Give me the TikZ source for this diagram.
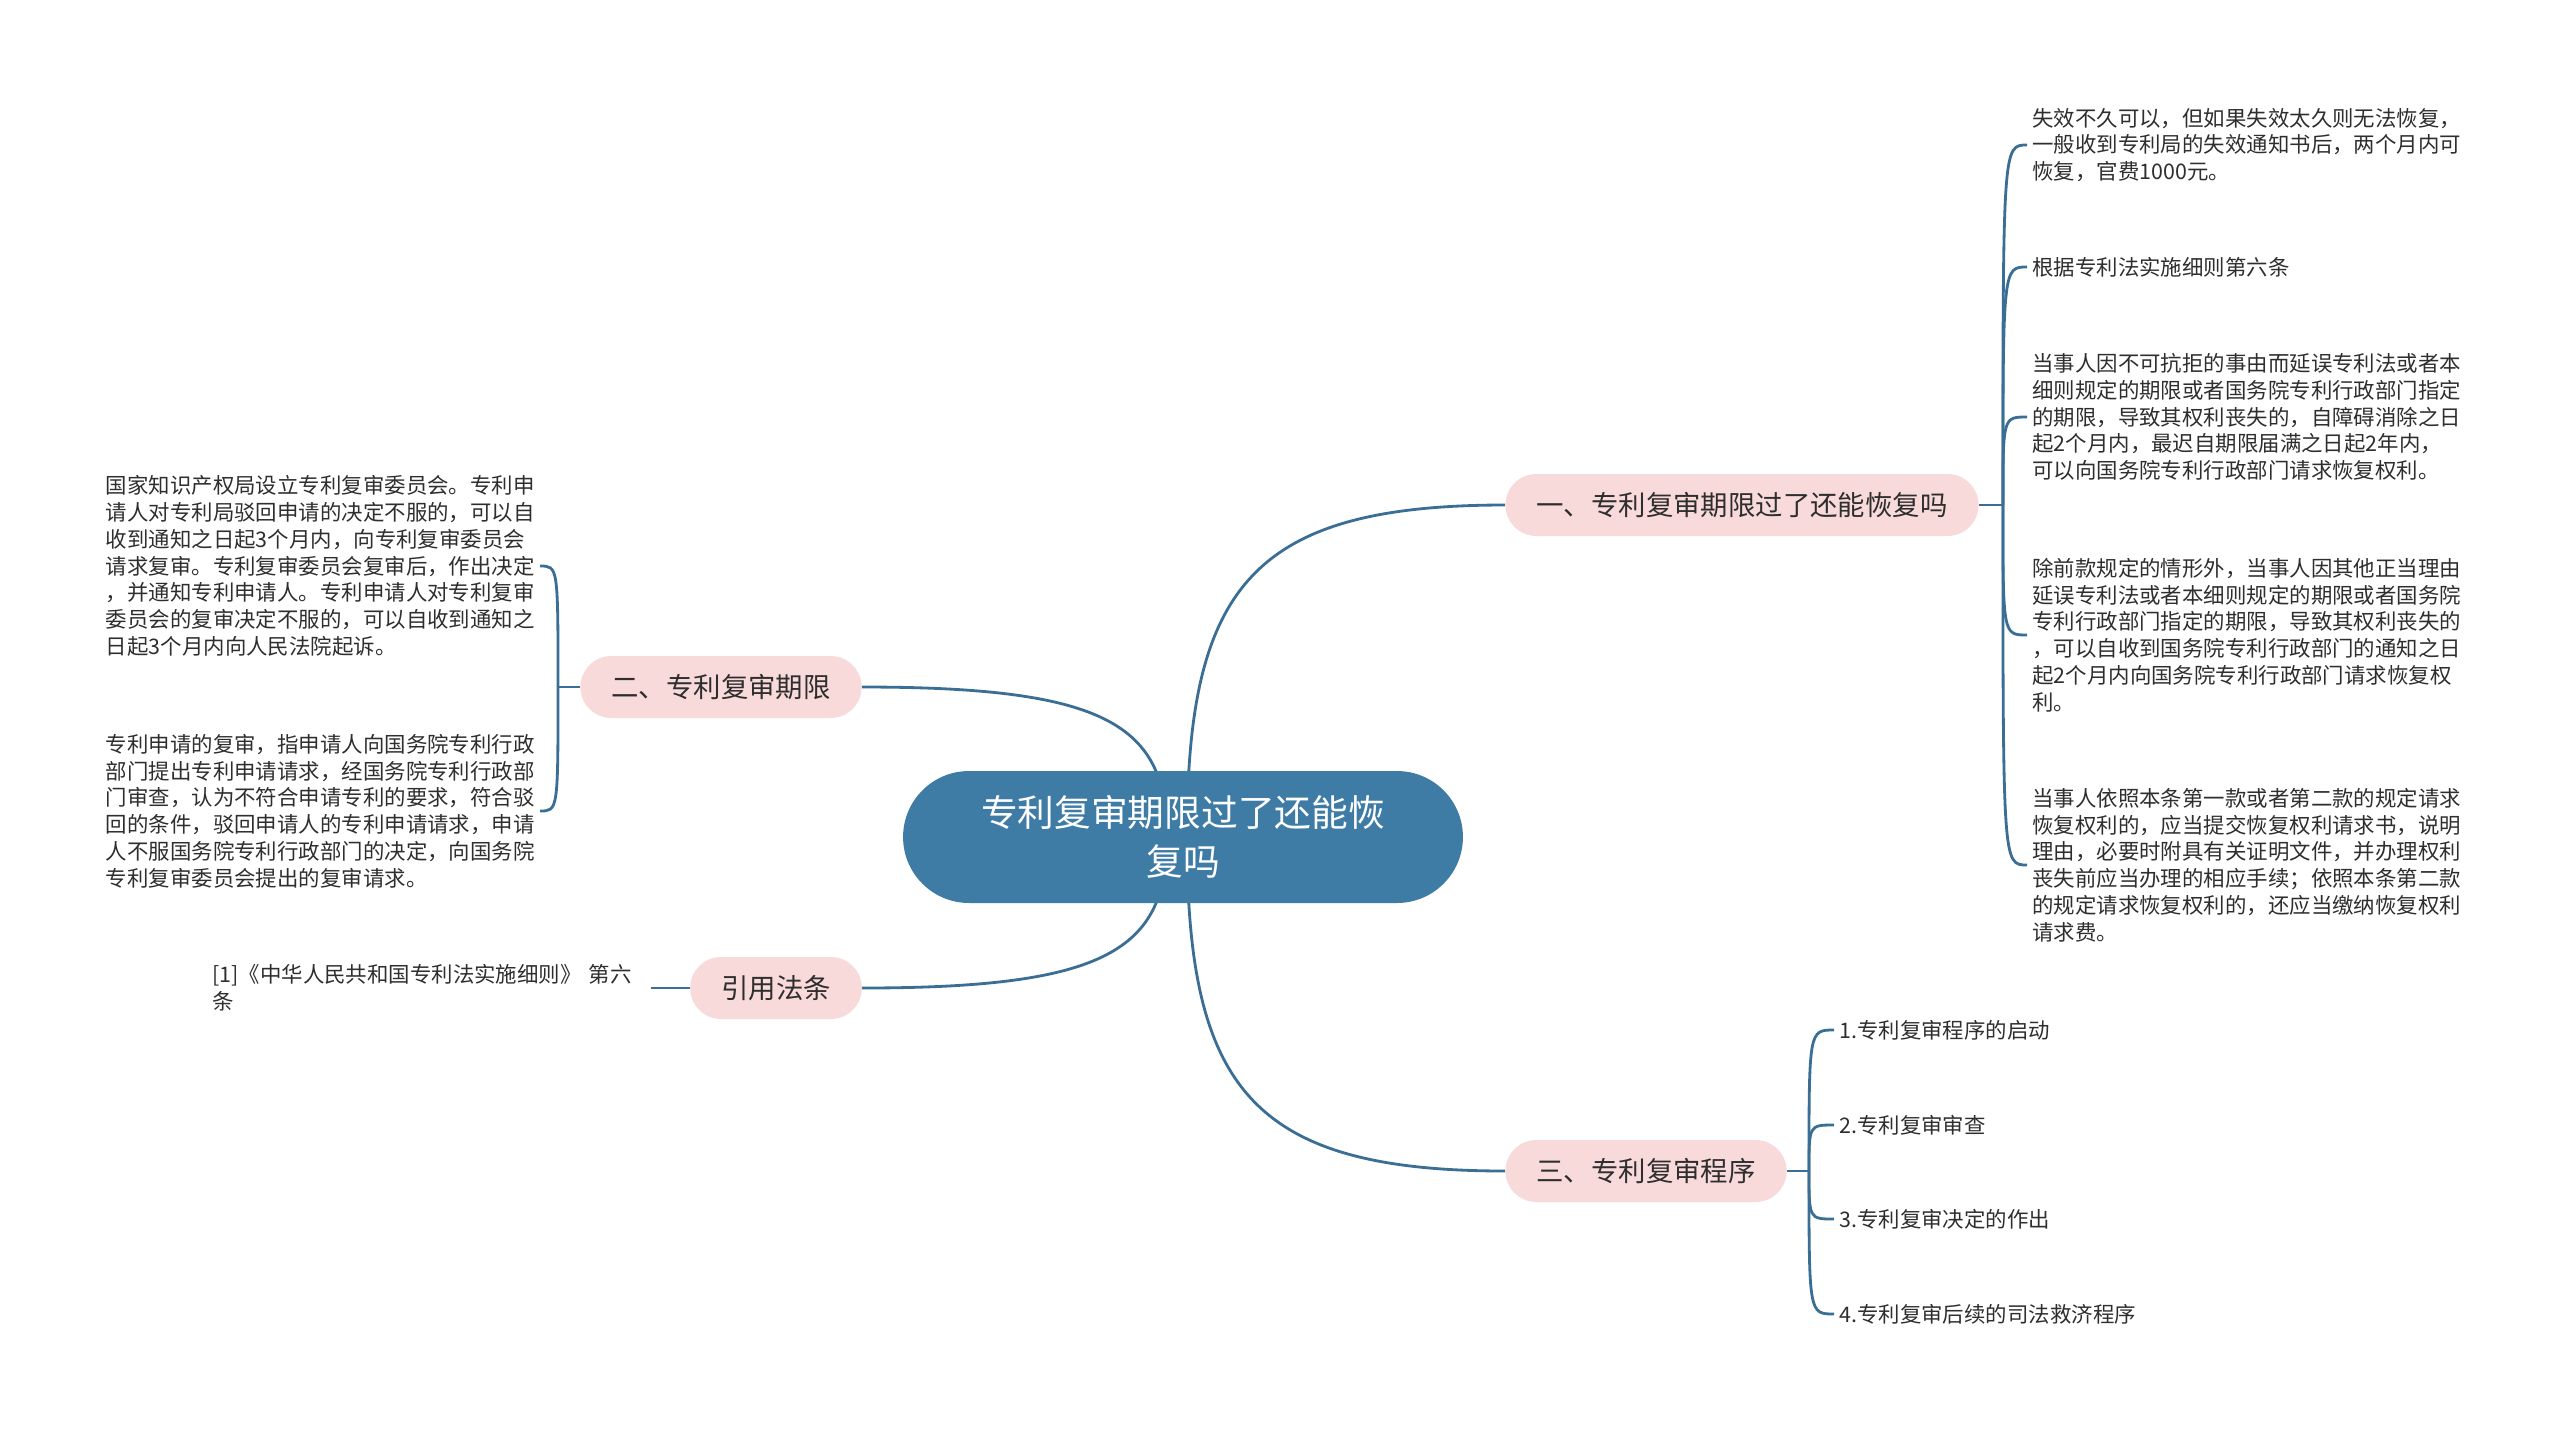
\documentclass[tikz,border=0pt]{standalone}
\usepackage{fontspec}
\setmainfont{Noto Sans CJK SC}
\usepackage{tikz}
\usetikzlibrary{positioning,calc,backgrounds}
\definecolor{rootblue}{HTML}{3E7CA6}
\definecolor{linkblue}{HTML}{3A6E94}
\definecolor{topicpink}{HTML}{F9DADA}
\definecolor{textgray}{HTML}{2E2E2E}

\begin{document}
\begin{tikzpicture}[
  x=0.02cm,y=-0.02cm,
  root/.style={rectangle,rounded corners=1.32cm,fill=rootblue,text=white,
               minimum width=11.2cm,minimum height=2.64cm,align=center,
               font=\fontsize{20.9pt}{27.9pt}\selectfont},
  topic/.style={rectangle,rounded corners=0.62cm,fill=topicpink,text=textgray,
                inner xsep=0.62cm,minimum height=1.24cm,
                font=\fontsize{15.6pt}{18pt}\selectfont},
  leaf/.style={inner xsep=0.1cm,inner ysep=0pt,align=left,text=textgray,
               font=\fontsize{12.2pt}{15.25pt}\selectfont},
  link/.style={draw=linkblue,line width=1.6pt}
]
  \useasboundingbox (0,0) rectangle (2560,1428);

  \node[root] (root) at (1183,837) {专利复审期限过了还能恢\\复吗};
  \node[topic] (t1) at (1742,505) {一、专利复审期限过了还能恢复吗};
  \node[topic] (t2) at (721,687) {二、专利复审期限};
  \node[topic] (t3) at (776,988) {引用法条};
  \node[topic] (t4) at (1646,1171) {三、专利复审程序};

  % right upper group
  \node[leaf,anchor=west] (a1) at (2027,145) {失效不久可以，但如果失效太久则无法恢复，\\一般收到专利局的失效通知书后，两个月内可\\恢复，官费1000元。};
  \node[leaf,anchor=west] (a2) at (2027,267) {根据专利法实施细则第六条};
  \node[leaf,anchor=west] (a3) at (2027,417) {当事人因不可抗拒的事由而延误专利法或者本\\细则规定的期限或者国务院专利行政部门指定\\的期限，导致其权利丧失的，自障碍消除之日\\起2个月内，最迟自期限届满之日起2年内，\\可以向国务院专利行政部门请求恢复权利。};
  \node[leaf,anchor=west] (a4) at (2027,635) {除前款规定的情形外，当事人因其他正当理由\\延误专利法或者本细则规定的期限或者国务院\\专利行政部门指定的期限，导致其权利丧失的\\，可以自收到国务院专利行政部门的通知之日\\起2个月内向国务院专利行政部门请求恢复权\\利。};
  \node[leaf,anchor=west] (a5) at (2027,865) {当事人依照本条第一款或者第二款的规定请求\\恢复权利的，应当提交恢复权利请求书，说明\\理由，必要时附具有关证明文件，并办理权利\\丧失前应当办理的相应手续；依照本条第二款\\的规定请求恢复权利的，还应当缴纳恢复权利\\请求费。};

  % left group
  \node[leaf,anchor=east] (b1) at (540,566) {国家知识产权局设立专利复审委员会。专利申\\请人对专利局驳回申请的决定不服的，可以自\\收到通知之日起3个月内，向专利复审委员会\\请求复审。专利复审委员会复审后，作出决定\\，并通知专利申请人。专利申请人对专利复审\\委员会的复审决定不服的，可以自收到通知之\\日起3个月内向人民法院起诉。};
  \node[leaf,anchor=east] (b2) at (540,811) {专利申请的复审，指申请人向国务院专利行政\\部门提出专利申请请求，经国务院专利行政部\\门审查，认为不符合申请专利的要求，符合驳\\回的条件，驳回申请人的专利申请请求，申请\\人不服国务院专利行政部门的决定，向国务院\\专利复审委员会提出的复审请求。};
  \node[leaf,anchor=west,text width=8.66cm] (c1) at (207,988) {[1]《中华人民共和国专利法实施细则》 第六\\条};

  % right lower group
  \node[leaf,anchor=west] (d1) at (1834,1030) {1.专利复审程序的启动};
  \node[leaf,anchor=west] (d2) at (1834,1125) {2.专利复审审查};
  \node[leaf,anchor=west] (d3) at (1834,1219) {3.专利复审决定的作出};
  \node[leaf,anchor=west] (d4) at (1834,1314) {4.专利复审后续的司法救济程序};

  \coordinate (rl) at ($(root.center)+(-16,0)$);
  \coordinate (rr) at ($(root.center)+(4,0)$);
  \coordinate (j1) at ($(t1.east)+(24,0)$);
  \coordinate (j2) at ($(t2.west)+(-22,0)$);
  \coordinate (j4) at ($(t4.east)+(22,0)$);

  \begin{scope}[on background layer]
    \draw[link] (rr) .. controls ($(rr)!0.75!(rr |- t1.west)$) and ($(rr |- t1.west)!0.2!(t1.west)$) .. (t1.west);
    \draw[link] (rl) .. controls ($(rl)!0.75!(rl |- t2.east)$) and ($(rl |- t2.east)!0.2!(t2.east)$) .. (t2.east);
    \draw[link] (rl) .. controls ($(rl)!0.75!(rl |- t3.east)$) and ($(rl |- t3.east)!0.2!(t3.east)$) .. (t3.east);
    \draw[link] (rr) .. controls ($(rr)!0.75!(rr |- t4.west)$) and ($(rr |- t4.west)!0.2!(t4.west)$) .. (t4.west);

    \draw[link] (t1.east) -- (j1);
    \draw[link] (j1) .. controls (j1 |- a1.west) .. (a1.west);
    \draw[link] (j1) .. controls (j1 |- a2.west) .. (a2.west);
    \draw[link] (j1) .. controls (j1 |- a3.west) .. (a3.west);
    \draw[link] (j1) .. controls (j1 |- a4.west) .. (a4.west);
    \draw[link] (j1) .. controls (j1 |- a5.west) .. (a5.west);

    \draw[link] (t2.west) -- (j2);
    \draw[link] (j2) .. controls (j2 |- b1.east) .. (b1.east);
    \draw[link] (j2) .. controls (j2 |- b2.east) .. (b2.east);

    \draw[link] (c1.east) -- (t3.west);

    \draw[link] (t4.east) -- (j4);
    \draw[link] (j4) .. controls (j4 |- d1.west) .. (d1.west);
    \draw[link] (j4) .. controls (j4 |- d2.west) .. (d2.west);
    \draw[link] (j4) .. controls (j4 |- d3.west) .. (d3.west);
    \draw[link] (j4) .. controls (j4 |- d4.west) .. (d4.west);
  \end{scope}
\end{tikzpicture}
\end{document}
